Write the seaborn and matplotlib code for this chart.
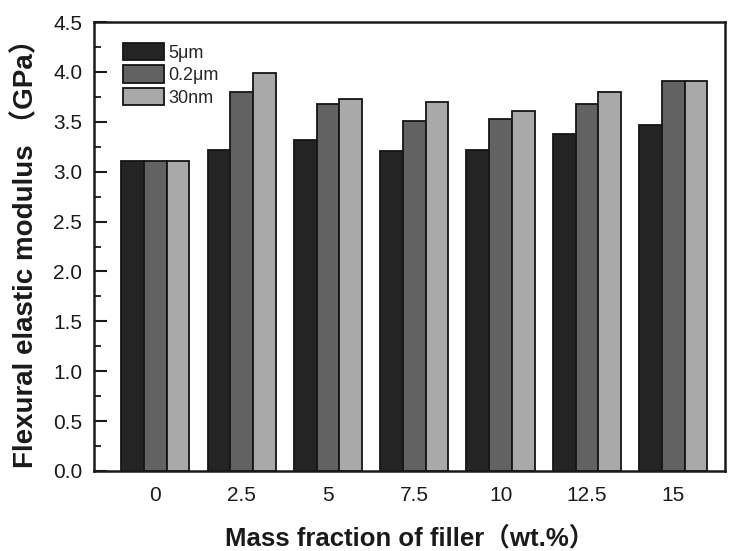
import matplotlib
matplotlib.use("Agg")
import matplotlib.pyplot as plt
import seaborn as sns
import pandas as pd
from matplotlib.ticker import MultipleLocator

categories = ["0", "2.5", "5", "7.5", "10", "12.5", "15"]
series_names = ["5μm", "0.2μm", "30nm"]
vals_5um = [3.11, 3.22, 3.32, 3.21, 3.22, 3.38, 3.47]
vals_02um = [3.11, 3.80, 3.68, 3.51, 3.53, 3.68, 3.91]
vals_30nm = [3.11, 3.99, 3.73, 3.70, 3.61, 3.80, 3.91]
colors = ["#242424", "#626262", "#a9a9a9"]

rows = []
for name, vals in zip(series_names, [vals_5um, vals_02um, vals_30nm]):
    for c, v in zip(categories, vals):
        rows.append({"fraction": c, "size": name, "modulus": v})
df = pd.DataFrame(rows)

sns.set_theme(style="white")
plt.rcParams['font.family'] = ['Liberation Sans', 'Noto Sans CJK SC', 'DejaVu Sans']

fig = plt.figure(figsize=(7.39, 5.51), dpi=100)
ax = fig.add_axes([94/739, 80/551, 631/739, 449/551])

sns.barplot(data=df, x="fraction", y="modulus", hue="size", order=categories,
            hue_order=series_names, palette=colors, width=0.79,
            edgecolor="#151515", linewidth=1.3, saturation=1, ax=ax, errorbar=None)

ax.set_xlim(-0.71, 6.6)
ax.set_ylim(0, 4.5)
ax.yaxis.set_major_locator(MultipleLocator(0.5))
ax.yaxis.set_minor_locator(MultipleLocator(0.25))
ax.yaxis.set_major_formatter(matplotlib.ticker.FormatStrFormatter('%.1f'))
ax.tick_params(axis='y', which='major', direction='in', length=9, width=1.5,
               left=True, labelsize=15, pad=8.5, colors='#1a1a1a')
ax.tick_params(axis='y', which='minor', direction='in', length=5, width=1.3, left=True, colors='#1a1a1a')
ax.tick_params(axis='x', length=0, labelsize=15, pad=11, colors='#1a1a1a')

for s in ax.spines.values():
    s.set_linewidth(1.8)
    s.set_color('#1a1a1a')

ax.set_xlabel("Mass fraction of filler（wt.%）", fontsize=18.5, fontweight='bold',
              labelpad=15, color='#1a1a1a')
ax.set_ylabel("Flexural elastic modulus （GPa）", fontsize=20, fontweight='bold',
              labelpad=10, color='#1a1a1a')

fs = 13
leg = ax.legend(loc='upper left', bbox_to_anchor=(29/631, 1 - 21/449), frameon=False,
                fontsize=fs, handlelength=2.27, handleheight=1.1, labelspacing=0.2,
                handletextpad=0.22, borderpad=0, borderaxespad=0, title=None)

fig.savefig("out.png", dpi=100)
